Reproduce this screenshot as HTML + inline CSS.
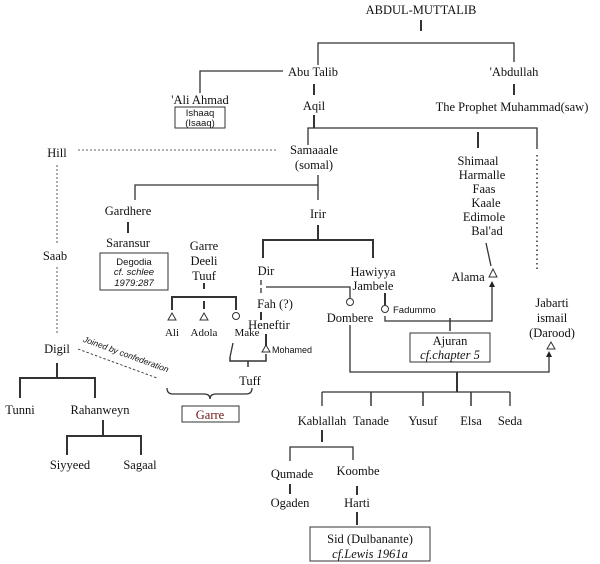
<!DOCTYPE html>
<html><head><meta charset="utf-8"><style>
body{margin:0;background:#fff}
svg{display:block}
text{font-family:"Liberation Serif",serif;font-size:12.5px;fill:#111;text-anchor:middle}
.s{font-family:"Liberation Sans",sans-serif;font-size:9.5px}
.i{font-style:italic}
</style></head><body>
<svg width="600" height="564" viewBox="0 0 600 564" xmlns="http://www.w3.org/2000/svg">
<g stroke="#333" stroke-width="1.3" fill="none">
<line x1="421" y1="20" x2="421" y2="31" stroke-width="2"/>
<polyline points="318,65 318,43 514,43 514,62"/>
<polyline points="200,93 200,71 283,71"/>
<line x1="314" y1="84" x2="314" y2="95" stroke-width="2"/>
<line x1="514" y1="84" x2="514" y2="95" stroke-width="2"/>
<line x1="314" y1="115" x2="314" y2="128" stroke-width="2"/>
<polyline points="308,145 308,128 537,128 537,149"/>
<line x1="478" y1="132" x2="478" y2="148" stroke-width="2"/>
<line x1="537" y1="155" x2="537" y2="272" stroke-dasharray="1.5,3" stroke-width="1.5"/>
<line x1="78" y1="150" x2="278" y2="150" stroke-dasharray="2,2" stroke-width="0.8"/>
<line x1="57" y1="165" x2="57" y2="244" stroke-dasharray="2,2" stroke-width="0.8"/>
<line x1="57" y1="267" x2="57" y2="334" stroke-dasharray="2,2" stroke-width="0.8"/>
<polyline points="135,200 135,185 318,185"/>
<line x1="318" y1="175" x2="318" y2="200"/>
<line x1="128" y1="222" x2="128" y2="233" stroke-width="2"/>
<line x1="318" y1="225" x2="318" y2="240" stroke-width="2"/>
<polyline points="263,258 263,240 373,240 373,258" stroke-width="2"/>
<line x1="486" y1="243" x2="491" y2="266"/>
<line x1="261" y1="280" x2="261" y2="296" stroke-dasharray="5,3"/>
<polyline points="266,287 350,287 350,298"/>
<line x1="261" y1="312" x2="261" y2="320" stroke-width="2"/>
<line x1="266" y1="334" x2="266" y2="346" stroke-width="2"/>
<line x1="204" y1="283" x2="204" y2="289" stroke-width="2"/>
<polyline points="172,310 172,297 236,297 236,310" stroke-width="2"/>
<line x1="204" y1="301" x2="204" y2="309" stroke-width="2"/>
<line x1="233" y1="343" x2="230" y2="357"/>
<polyline points="230,357 230,361 266,361 266,354" stroke-width="1.5"/>
<line x1="248" y1="361" x2="248" y2="367" stroke-width="1.5"/>
<path d="M167,388 q0,6 6,6 h31 q6,0 6,5 q0,-5 6,-5 h30 q6,0 6,-6"/>
<line x1="78" y1="349" x2="157" y2="378" stroke-dasharray="2.5,2" stroke-width="0.9"/>
<line x1="57" y1="363" x2="57" y2="378" stroke-width="2"/>
<polyline points="20,398 20,378 95,378 95,398" stroke-width="2"/>
<line x1="103" y1="420" x2="103" y2="436" stroke-width="2"/>
<polyline points="67,455 67,436 141,436 141,455" stroke-width="2"/>
<line x1="385" y1="293" x2="385" y2="305" stroke-width="2"/>
<polyline points="385,316 385,321 492,321 492,285"/>
<line x1="450" y1="318" x2="450" y2="331" stroke-width="1.5"/>
<polyline points="350,325 350,372 549,372 549,355"/>
<line x1="457" y1="372" x2="457" y2="392" stroke-width="2"/>
<line x1="322" y1="392" x2="510" y2="392"/>
<line x1="322" y1="392" x2="322" y2="406"/>
<line x1="371" y1="392" x2="371" y2="406" stroke-width="1.5"/>
<line x1="423" y1="392" x2="423" y2="406" stroke-width="1.5"/>
<line x1="471" y1="392" x2="471" y2="406" stroke-width="1.5"/>
<line x1="510" y1="392" x2="510" y2="406"/>
<line x1="322" y1="430" x2="322" y2="442" stroke-width="2"/>
<polyline points="290,461 290,447 353,447 353,460"/>
<line x1="290" y1="484" x2="290" y2="494" stroke-width="2"/>
<line x1="357" y1="486" x2="357" y2="495" stroke-width="2"/>
<line x1="357" y1="512" x2="357" y2="525" stroke-width="2"/>
</g>
<g fill="#222"><polygon points="492,281 489,287 495,287"/><polygon points="549,351 546,357 552,357"/></g>
<g fill="#fff" stroke="#333" stroke-width="1">
<polygon points="493,269 489,277 497,277"/>
<polygon points="551,342 547,349 555,349"/>
<polygon points="172,313 168,320 176,320"/>
<polygon points="204,313 200,320 208,320"/>
<circle cx="236" cy="316" r="3.5"/>
<polygon points="266,345 262,352 270,352"/>
<circle cx="350" cy="302" r="3.5"/>
<circle cx="385" cy="309" r="3.5"/>
<rect x="175" y="107" width="50" height="21"/>
<rect x="100" y="253" width="68" height="37"/>
<rect x="182" y="406" width="57" height="16"/>
<rect x="410" y="333" width="80" height="29"/>
<rect x="310" y="527" width="120" height="34"/>
</g>
<text x="421" y="14">ABDUL-MUTTALIB</text>
<text x="313" y="76">Abu Talib</text>
<text x="514" y="76">'Abdullah</text>
<text x="200" y="104">'Ali Ahmad</text>
<text class="s" x="200" y="116">Ishaaq</text>
<text class="s" x="200" y="126">(Isaaq)</text>
<text x="314" y="110">Aqil</text>
<text x="512" y="111">The Prophet Muhammad(saw)</text>
<text x="57" y="157">Hill</text>
<text x="314" y="154">Samaaale</text>
<text x="314" y="169">(somal)</text>
<text x="478" y="165">Shimaal</text>
<text x="482" y="179">Harmalle</text>
<text x="484" y="193">Faas</text>
<text x="486" y="207">Kaale</text>
<text x="484" y="221">Edimole</text>
<text x="487" y="235">Bal'ad</text>
<text x="128" y="215">Gardhere</text>
<text x="318" y="218">Irir</text>
<text x="128" y="247">Saransur</text>
<text class="s" x="134" y="265">Degodia</text>
<text class="s i" x="134" y="275">cf. schlee</text>
<text class="s i" x="134" y="286">1979:287</text>
<text x="204" y="250">Garre</text>
<text x="204" y="265">Deeli</text>
<text x="204" y="280">Tuuf</text>
<text x="55" y="260">Saab</text>
<text x="266" y="275">Dir</text>
<text x="373" y="276">Hawiyya</text>
<text x="373" y="290">Jambele</text>
<text x="468" y="281">Alama</text>
<text x="552" y="307">Jabarti</text>
<text x="552" y="322">ismail</text>
<text x="552" y="337">(Darood)</text>
<text x="275" y="308">Fah (?)</text>
<text x="269" y="329">Heneftir</text>
<text class="s" x="272" y="353" style="text-anchor:start;font-size:9px">Mohamed</text>
<text x="350" y="322">Dombere</text>
<text class="s" x="393" y="313" style="text-anchor:start">Fadummo</text>
<text style="font-size:11px" x="172" y="336">Ali</text>
<text style="font-size:11px" x="204" y="336">Adola</text>
<text style="font-size:11px" x="247" y="336">Make</text>
<text x="250" y="385">Tuff</text>
<text x="57" y="353">Digil</text>
<text class="s i" style="font-size:8.5px" transform="translate(125,357) rotate(20)">Joined by confederation</text>
<text x="210" y="419" style="fill:#6b1414">Garre</text>
<text x="450" y="345">Ajuran</text>
<text class="i" x="450" y="359">cf.chapter 5</text>
<text x="20" y="414">Tunni</text>
<text x="100" y="414">Rahanweyn</text>
<text x="70" y="469">Siyyeed</text>
<text x="140" y="469">Sagaal</text>
<text x="322" y="425">Kablallah</text>
<text x="371" y="425">Tanade</text>
<text x="423" y="425">Yusuf</text>
<text x="471" y="425">Elsa</text>
<text x="510" y="425">Seda</text>
<text x="292" y="478">Qumade</text>
<text x="358" y="475">Koombe</text>
<text x="290" y="507">Ogaden</text>
<text x="357" y="507">Harti</text>
<text x="370" y="543">Sid (Dulbanante)</text>
<text class="i" x="370" y="558">cf.Lewis  1961a</text>
</svg>
</body></html>
